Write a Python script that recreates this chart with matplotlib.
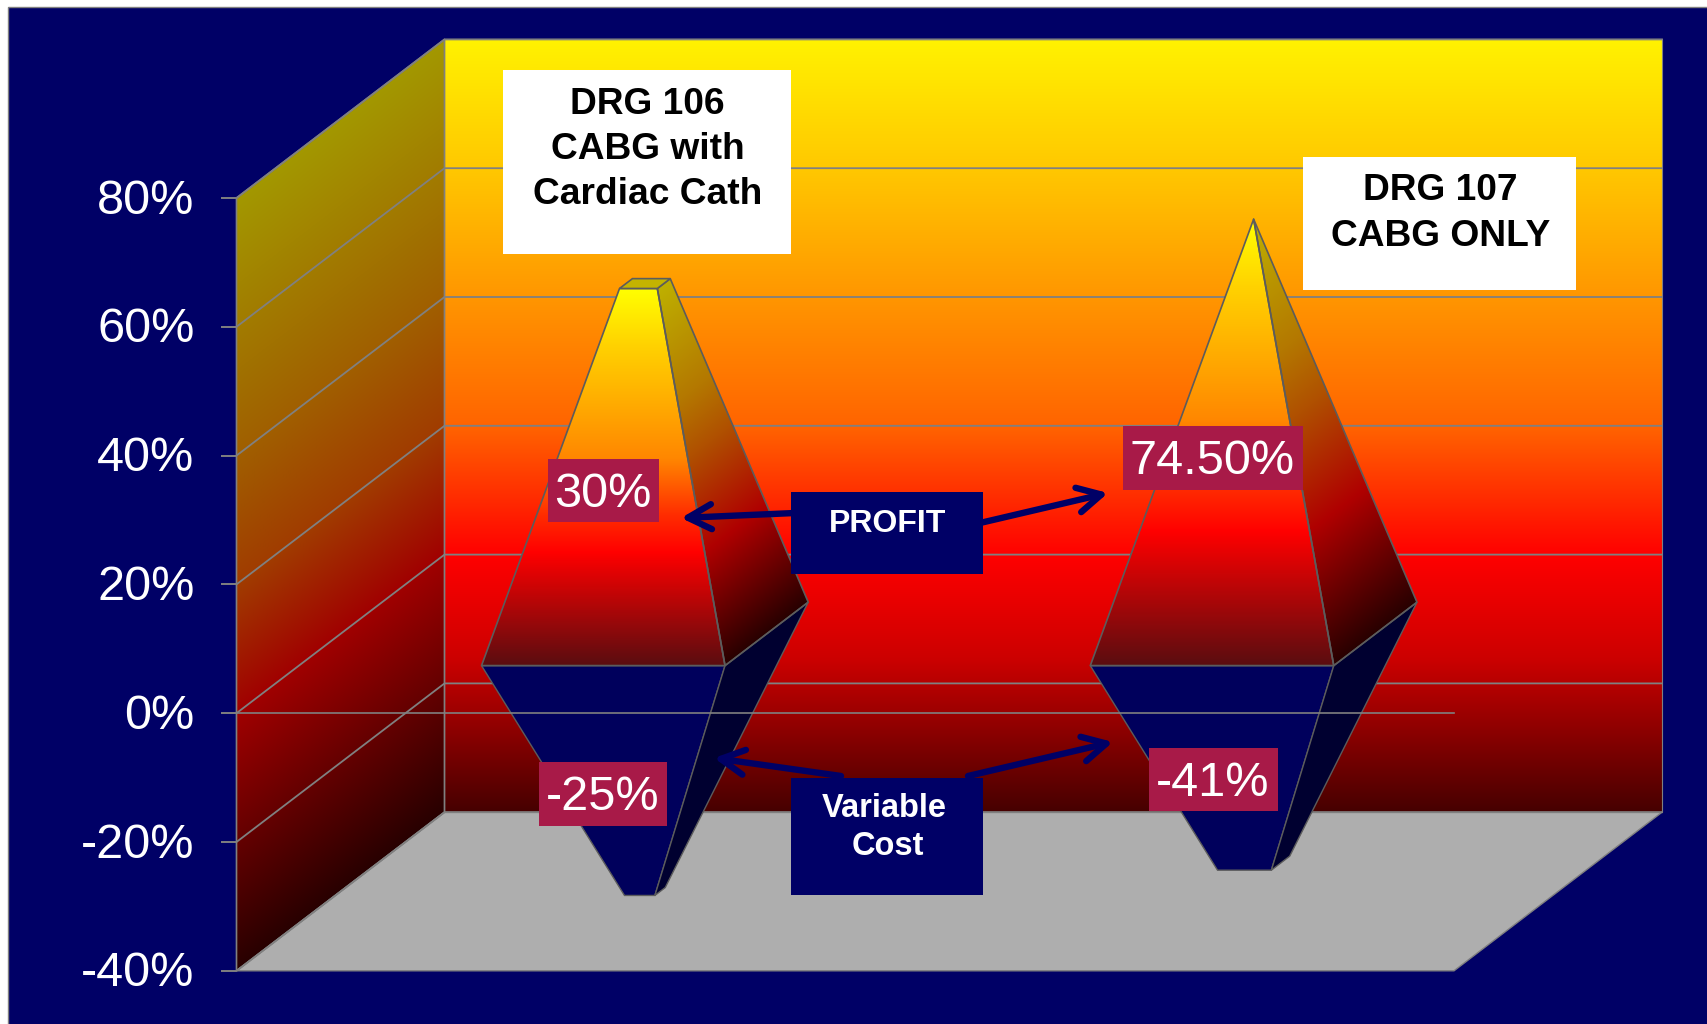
import numpy as np
import matplotlib
matplotlib.use('Agg')
import matplotlib.pyplot as plt
from matplotlib.patches import Polygon, Rectangle

plt.rcParams['font.family'] = ['Liberation Sans', 'DejaVu Sans']

# values
tick_values = [80, 60, 40, 20, 0, -20, -40]
tick_labels = ['80%', '60%', '40%', '20%', '0%', '-20%', '-40%']
profit_heights = [54.4, 64.4]
cost_heights = [-40.0, -35.6]
profit_apex = 64.4
cost_apex = -45.7
category_titles = ['DRG 106\nCABG with\nCardiac Cath', 'DRG 107\nCABG ONLY']
profit_labels = ['30%', '74.50%']
cost_labels = ['-25%', '-41%']

# projection of the 3d box to pixels
X0, PLOT_W = 236.5, 1217.5
Y0, PER_PCT = 713.2, 6.44
DEPTH_X, DEPTH_Y = 208.0, 158.6
BAR_HALF = 0.2

NAVY = '#000066'
GREY = '#808080'
EDGE = '#5c5c5c'
PINK = '#a81a48'

WALL_STOPS = [(0.0, (255, 242, 0)), (0.166, (255, 200, 0)), (0.333, (255, 150, 0)), (0.5, (255, 100, 0)),
              (0.6, (255, 40, 0)), (0.667, (255, 0, 0)), (0.80, (205, 0, 0)), (0.933, (115, 0, 0)),
              (1.0, (70, 0, 0))]
SIDE_WALL_STOPS = [(0.0, (163, 152, 0)), (0.333, (160, 95, 0)), (0.5, (160, 60, 0)), (0.667, (160, 0, 0)),
                   (1.0, (40, 0, 0))]
FRONT_STOPS = [(0.0, (255, 255, 0)), (0.15, (255, 210, 0)), (0.45, (255, 135, 0)), (0.6, (255, 45, 0)),
               (0.70, (255, 0, 0)), (1.0, (90, 13, 16))]
SIDE_STOPS = [(0.0, (190, 176, 0)), (0.3, (180, 120, 0)), (0.45, (176, 80, 0)), (0.70, (175, 0, 0)),
              (1.0, (40, 0, 0))]


def project(cat, depth, value):
    x = X0 + cat / 2 * PLOT_W + depth * DEPTH_X
    y = Y0 - value * PER_PCT - depth * DEPTH_Y
    return x, y


def fill_gradient(ax, corners, stops, sheared=False, zorder=2):
    corners = np.array(corners)
    slope = DEPTH_Y / DEPTH_X if sheared else 0.0
    left, right = corners[:, 0].min(), corners[:, 0].max()
    top, bottom = corners[:, 1].min(), corners[:, 1].max()
    xs = np.arange(np.floor(left), np.ceil(right) + 1)
    ys = np.arange(np.floor(top), np.ceil(bottom) + 1)
    gx, gy = np.meshgrid(xs, ys)
    s = gy + slope * gx
    s_corners = corners[:, 1] + slope * corners[:, 0]
    t = (s - s_corners.min()) / (s_corners.max() - s_corners.min())
    pos = [p for p, _ in stops]
    rgb = np.dstack([np.interp(t, pos, [c[i] for _, c in stops]) for i in range(3)]) / 255
    im = ax.imshow(rgb, extent=(xs[0], xs[-1], ys[-1], ys[0]), aspect='auto', zorder=zorder,
                   interpolation='bilinear')
    im.set_clip_path(Polygon(corners, closed=True, transform=ax.transData))


def outline(ax, corners, color=EDGE, lw=1.2, zorder=5):
    ax.add_patch(Polygon(corners, closed=True, fill=False, edgecolor=color, lw=lw, zorder=zorder,
                         joinstyle='round'))


def frustum(center, value, apex):
    frac = 1 - value / apex
    half = BAR_HALF * frac
    return (project(center - half, 0.5 - half, value),
            project(center + half, 0.5 - half, value),
            project(center + half, 0.5 + half, value),
            project(center - half, 0.5 + half, value))


fig = plt.figure(figsize=(17.08, 10.24), dpi=100, facecolor='white')
ax = fig.add_axes([0, 0, 1, 1])
ax.axis('off')

ax.add_patch(Rectangle((8.5, 6.5), 1720, 1040, facecolor=NAVY, edgecolor=GREY, lw=1, zorder=1))

# walls and floor
top, bottom = tick_values[0], tick_values[-1]
back_wall = [project(0, 1, top), project(2, 1, top), project(2, 1, bottom), project(0, 1, bottom)]
side_wall = [project(0, 0, top), project(0, 1, top), project(0, 1, bottom), project(0, 0, bottom)]
floor = [project(0, 0, bottom), project(0, 1, bottom), project(2, 1, bottom), project(2, 0, bottom)]
fill_gradient(ax, back_wall, WALL_STOPS)
fill_gradient(ax, side_wall, SIDE_WALL_STOPS, sheared=True)
ax.add_patch(Polygon(floor, closed=True, facecolor='#aeaeae', edgecolor=GREY, lw=1, zorder=3))
outline(ax, back_wall, color=GREY, lw=0.8, zorder=3)
outline(ax, side_wall, color=GREY, lw=1.2, zorder=3)

# gridlines, ticks
for value, label in zip(tick_values, tick_labels):
    xa, ya = project(0, 0, value)
    xb, yb = project(0, 1, value)
    xc, yc = project(2, 1, value)
    ax.plot([xa - 15, xa], [ya, ya], color=GREY, lw=1.4, zorder=3, solid_capstyle='butt')
    ax.plot([xa, xb, xc], [ya, yb, yc], color=GREY, lw=1.3, zorder=3)
    ax.text(xa - 42, ya - 2, label, color='white', fontsize=35, ha='right', va='center_baseline', zorder=6)

# pyramids
for i in range(2):
    center = i + 0.5
    base = frustum(center, 0, profit_apex)
    head = frustum(center, profit_heights[i], profit_apex)
    low = frustum(center, cost_heights[i], cost_apex)

    front_up = [base[0], base[1], head[1], head[0]]
    side_up = [base[1], base[2], head[2], head[1]]
    front_down = [base[0], base[1], low[1], low[0]]
    side_down = [base[1], base[2], low[2], low[1]]

    fill_gradient(ax, front_up, FRONT_STOPS, zorder=4)
    fill_gradient(ax, side_up, SIDE_STOPS, sheared=True, zorder=4)
    outline(ax, front_up)
    outline(ax, side_up)
    if profit_heights[i] < profit_apex:
        ax.add_patch(Polygon(head, closed=True, facecolor='#c4b400', edgecolor=EDGE, lw=1.2, zorder=5))
    ax.add_patch(Polygon(front_down, closed=True, facecolor='#00005c', edgecolor=EDGE, lw=1.0, zorder=4))
    ax.add_patch(Polygon(side_down, closed=True, facecolor='#000030', edgecolor=EDGE, lw=1.0, zorder=4))

# 0% line runs over the pyramids
xa, ya = project(0, 0, 0)
xb, yb = project(2, 0, 0)
ax.plot([xa, xb], [ya, yb], color=GREY, lw=1.2, zorder=6)

# title boxes
title_boxes = [(503, 70, 288, 184), (1303.5, 157, 272.5, 133)]
title_y = [100, 187]
line_gap = 45.5
for (bx, by, bw, bh), ty, title in zip(title_boxes, title_y, category_titles):
    ax.add_patch(Rectangle((bx, by), bw, bh, facecolor='white', edgecolor='none', zorder=7))
    for k, line in enumerate(title.split('\n')):
        ax.text(bx + bw / 2 + 0.5, ty + k * line_gap, line, color='black', fontsize=26.7, fontweight='bold',
                ha='center', va='center_baseline', zorder=8)

# value labels
value_boxes = [(548.5, 459, 111, 63), (1123.5, 426, 180, 64), (539.5, 762, 127.5, 64), (1149, 748, 129, 63)]
for (bx, by, bw, bh), label in zip(value_boxes, profit_labels + cost_labels):
    ax.add_patch(Rectangle((bx, by), bw, bh, facecolor=PINK, edgecolor='none', zorder=7))
    ax.text(bx + bw / 2 - 1, by + bh / 2 - 1, label, color='white', fontsize=35, ha='center',
            va='center_baseline', zorder=8)

# arrows from the callouts
arrows = [((795, 513), (681, 518)), ((980, 523), (1108, 493)),
          ((841, 776), (714, 758)), ((968, 776), (1113, 742))]
for start, tip in arrows:
    ax.annotate('', xy=tip, xytext=start, zorder=7,
                arrowprops=dict(arrowstyle='->,head_length=0.85,head_width=0.45', color=NAVY, lw=4.6,
                                mutation_scale=20, shrinkA=0, shrinkB=0))

ax.add_patch(Rectangle((791, 492), 192, 82, facecolor=NAVY, edgecolor='none', zorder=8))
ax.add_patch(Rectangle((791, 778), 192, 117, facecolor=NAVY, edgecolor='none', zorder=8))
ax.text(888, 521, 'PROFIT', color='white', fontsize=23, fontweight='bold', ha='center',
        va='center_baseline', zorder=9)
ax.text(884, 805, 'Variable', color='white', fontsize=23.5, fontweight='bold', ha='center',
        va='center_baseline', zorder=9)
ax.text(888, 843, 'Cost', color='white', fontsize=23.5, fontweight='bold', ha='center',
        va='center_baseline', zorder=9)

ax.set_xlim(0, 1708)
ax.set_ylim(1024, 0)

fig.savefig('out.png', dpi=100, facecolor='white')
